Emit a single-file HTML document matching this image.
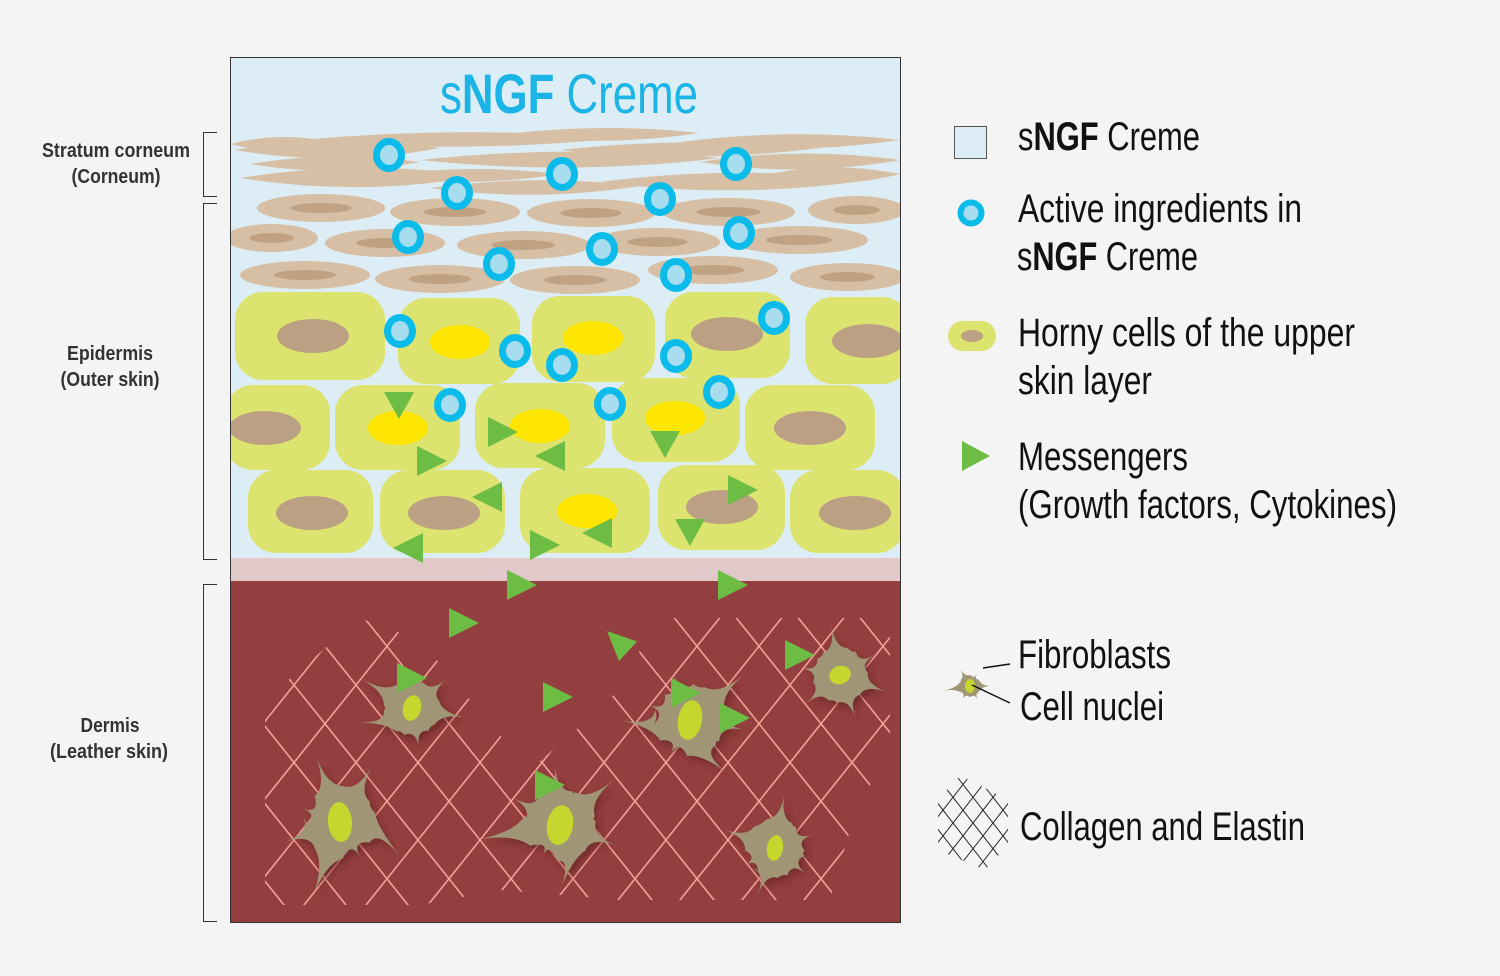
<!DOCTYPE html>
<html><head><meta charset="utf-8"><style>
html,body{margin:0;padding:0;background:#f4f4f4;width:1500px;height:976px;overflow:hidden;position:relative;}
svg{display:block;position:absolute;left:0;top:0;}
text{font-family:"Liberation Sans Narrow","Liberation Sans",sans-serif;}
</style></head><body>
<svg id="s" width="1500" height="976" viewBox="0 0 1500 976" xmlns="http://www.w3.org/2000/svg">
<defs>
<clipPath id="box"><rect x="231" y="58" width="669" height="864"/></clipPath>
<clipPath id="hatch"><polygon points="265,700 360,618 420,640 470,700 530,770 610,700 660,618 890,618 890,740 850,830 830,900 620,900 500,890 420,905 265,905"/></clipPath>
<clipPath id="lhc"><polygon points="938,800 960,775 1008,800 1008,845 985,870 938,850"/></clipPath>
<filter id="sh" x="-20%" y="-20%" width="140%" height="140%"><feDropShadow dx="3" dy="4" stdDeviation="4" flood-color="#5a1f1f" flood-opacity="0.6"/></filter>
</defs>
<rect x="230.5" y="57.5" width="670" height="865" fill="#dcedf5" stroke="#333" stroke-width="1"/>
<g clip-path="url(#box)" id="art">
<rect x="231" y="558" width="669" height="24" fill="#e2c9c9"/>
<rect x="231" y="581" width="669" height="341" fill="#943f3f"/>
<g id="corneum" fill="#d6bfa5"></g>
<g id="flat"></g>
<g id="green"></g>
<g id="hatchg" clip-path="url(#hatch)" stroke="#f4a19a" stroke-width="1.6"></g>
<g id="fib"></g>
<g id="tri" fill="#6dbd45"></g>
<g id="dots"></g>
</g>
<text x="440" y="113" font-size="56" fill="#1bb4e6" textLength="258" lengthAdjust="spacingAndGlyphs">s<tspan font-weight="bold">NGF</tspan> Creme</text>

<g fill="none" stroke="#333" stroke-width="1">
<path d="M217,132.5H203.5V196.5H217"/>
<path d="M217,203.5H203.5V559.5H217"/>
<path d="M217,584.5H203.5V921.5H217"/>
</g>
<g font-size="20" font-weight="bold" fill="#333" text-anchor="middle">
<text x="116" y="157" textLength="148" lengthAdjust="spacingAndGlyphs">Stratum corneum</text>
<text x="116" y="183" textLength="89" lengthAdjust="spacingAndGlyphs">(Corneum)</text>
<text x="110" y="360" textLength="86" lengthAdjust="spacingAndGlyphs">Epidermis</text>
<text x="110" y="386" textLength="99" lengthAdjust="spacingAndGlyphs">(Outer skin)</text>
<text x="110" y="732" textLength="59" lengthAdjust="spacingAndGlyphs">Dermis</text>
<text x="109" y="758" textLength="118" lengthAdjust="spacingAndGlyphs">(Leather skin)</text>
</g>

<rect x="954.5" y="126.5" width="32" height="32" fill="#dcedf5" stroke="#555"/>
<circle cx="971" cy="213" r="10.5" fill="#a8dcef" stroke="#0bbbe9" stroke-width="6"/>
<rect x="948" y="321" width="48" height="30" rx="15" fill="#dce36e"/>
<ellipse cx="972" cy="336" rx="11" ry="6" fill="#bba083"/>
<polygon points="962,441 990,456 962,471" fill="#6dbd45"/>
<g id="legfib"></g>
<g stroke="#111" stroke-width="1.5"><line x1="983" y1="668" x2="1010" y2="664"/><line x1="972" y1="685" x2="1010" y2="703"/></g>
<g id="leghatch" stroke="#222" stroke-width="1" clip-path="url(#lhc)"></g>
<g font-size="40" fill="#111">
<text x="1018" y="150" textLength="182" lengthAdjust="spacingAndGlyphs">s<tspan font-weight="bold">NGF</tspan> Creme</text>
<text x="1018" y="222" textLength="284" lengthAdjust="spacingAndGlyphs">Active ingredients in</text>
<text x="1017" y="270" textLength="181" lengthAdjust="spacingAndGlyphs">s<tspan font-weight="bold">NGF</tspan> Creme</text>
<text x="1018" y="346" textLength="337" lengthAdjust="spacingAndGlyphs">Horny cells of the upper</text>
<text x="1018" y="394" textLength="134" lengthAdjust="spacingAndGlyphs">skin layer</text>
<text x="1018" y="470" textLength="170" lengthAdjust="spacingAndGlyphs">Messengers</text>
<text x="1018" y="518" textLength="379" lengthAdjust="spacingAndGlyphs">(Growth factors, Cytokines)</text>
<text x="1018" y="668" textLength="153" lengthAdjust="spacingAndGlyphs">Fibroblasts</text>
<text x="1020" y="720" textLength="144" lengthAdjust="spacingAndGlyphs">Cell nuclei</text>
<text x="1020" y="840" textLength="285" lengthAdjust="spacingAndGlyphs">Collagen and Elastin</text>
</g>
</svg>
<script>
var NS="http://www.w3.org/2000/svg";
function el(p,t,a){var e=document.createElementNS(NS,t);for(var k in a)e.setAttribute(k,a[k]);document.getElementById(p).appendChild(e);return e;}
[[235,150,440,11],[240,178,480,12],[300,140,620,9],[420,160,720,10],[500,135,700,8],[560,150,820,9],[600,182,870,11],[680,142,900,9],[700,162,900,10],[430,188,640,9],[250,164,420,9],[760,176,900,10],[380,176,560,8],[230,144,330,8]].forEach(function(s){
 var x1=s[0],y=s[1],x2=s[2],h=s[3];
 el("corneum","path",{d:"M"+x1+","+y+"Q"+((x1+x2)/2)+","+(y-h*1.6)+" "+x2+","+(y-2)+"Q"+((x1+x2)/2)+","+(y+h*1.6)+" "+x1+","+y+"Z"});
});
[[257,385,208],[390,520,212],[527,655,213],[662,795,212],[808,905,210],[225,318,238],[325,445,243],[457,590,245],[595,720,242],[730,868,240],[240,370,275],[375,505,279],[510,640,280],[648,778,270],[790,905,277]].forEach(function(c){
 var w=c[1]-c[0];el("flat","ellipse",{cx:(c[0]+c[1])/2,cy:c[2],rx:w/2,ry:14,fill:"#d6bfa5"});
 el("flat","ellipse",{cx:(c[0]+c[1])/2,cy:c[2],rx:w*0.24,ry:5,fill:"#c0a283"});
});
var G=[[235,385,292,380,"t",313,336],[398,520,298,384,"y",460,342],[532,655,296,382,"y",593,338],[665,790,292,378,"t",727,334],[805,910,297,384,"t",868,341],
[225,330,385,470,"t",265,428],[335,460,385,470,"y",398,428],[475,605,383,468,"y",540,426],[612,740,378,462,"y",675,418],[745,875,385,470,"t",810,428],
[248,373,470,553,"t",312,513],[380,505,470,553,"t",444,513],[520,650,468,553,"y",587,511],[658,785,465,550,"t",722,507],[790,905,470,553,"t",855,513]];
G.forEach(function(c){
 el("green","rect",{x:c[0],y:c[2],width:c[1]-c[0],height:c[3]-c[2],rx:28,fill:"#dce36e"});
 if(c[4]=="t")el("green","ellipse",{cx:c[5],cy:c[6],rx:36,ry:17,fill:"#bba083"});
 else el("green","ellipse",{cx:c[5],cy:c[6],rx:30,ry:17,fill:"#ffe600"});
});
for(var k=-400;k<900;k+=62){
 el("hatchg","line",{x1:200+k,y1:610,x2:200+k+244,y2:915});
 el("hatchg","line",{x1:200+k,y1:915,x2:200+k+244,y2:610});
}
function star(g,cx,cy,arms,r,sc,nrx,nry,rot){
 var pts=[],n=arms.length,d="";
 for(var i=0;i<n;i++){var a=arms[i][0]*Math.PI/180,L=arms[i][1]*sc;
  var b1=a-0.45,b2=a+0.45;var bend=(arms[i][2]||0)*Math.PI/180;
  pts.push({b1:[cx+r*Math.cos(b1),cy+r*Math.sin(b1)],b2:[cx+r*Math.cos(b2),cy+r*Math.sin(b2)],t:[cx+L*Math.cos(a+bend),cy+L*Math.sin(a+bend)],m:[cx+L*0.55*Math.cos(a),cy+L*0.55*Math.sin(a)]});}
 d="M"+pts[0].b1.join(",");
 for(var i=0;i<n;i++){var p=pts[i],q=pts[(i+1)%n];
  d+="Q"+p.m.join(",")+" "+p.t.join(",")+"Q"+p.m.join(",")+" "+p.b2.join(",");
  var ma=Math.atan2((p.b2[1]+q.b1[1])/2-cy,(p.b2[0]+q.b1[0])/2-cx);
  d+="Q"+(cx+r*0.9*Math.cos(ma))+","+(cy+r*0.9*Math.sin(ma))+" "+q.b1.join(",");}
 el(g,"path",{d:d+"Z",fill:"#a09676",filter:g=="fib"?"url(#sh)":""});
 el(g,"ellipse",{cx:cx,cy:cy,rx:nrx,ry:nry,fill:"#c5d62e",transform:"rotate("+rot+" "+cx+" "+cy+")"});
}
star("fib",412,708,[[-150,58],[-100,40],[-40,45],[10,55],[80,40],[150,55,15]],28,1,9,13,15);
star("fib",340,822,[[-110,70],[-60,65],[10,70,20],[60,40],[110,80],[160,60],[-160,40]],36,1,12,20,-5);
star("fib",560,825,[[-95,60],[-40,70],[20,60],[70,65,20],[120,35],[170,85],[-150,55]],36,1,13,20,10);
star("fib",690,720,[[-110,50],[-40,70],[10,55],[70,65,-15],[120,40],[170,70,10],[-160,45]],36,1,12,20,10);
star("fib",840,675,[[-100,50],[-30,40],[20,50],[70,45],[140,45],[-170,40]],28,1,11,9,-20);
star("fib",775,848,[[-80,55],[-20,40],[40,40],[110,50],[150,35],[-160,55]],30,1,8,13,10);
star("legfib",970,686,[[-120,20],[-60,14],[0,22],[60,16],[120,16],[170,28]],11,1,5,7,0);
for(var k=-80;k<80;k+=20){
 el("leghatch","line",{x1:938+k,y1:778,x2:938+k+70,y2:868});
 el("leghatch","line",{x1:938+k,y1:868,x2:938+k+70,y2:778});
}
function tri(x,y,dir){var s=15,p;
 if(dir=="r")p=[[x-s,y-s],[x+s,y],[x-s,y+s]];
 else if(dir=="d")p=[[x-s,y-s*0.8],[x+s,y-s*0.8],[x,y+s]];
 else if(dir=="l")p=[[x+s,y-s],[x-s,y],[x+s,y+s]];
 else p=[[x-s,y-s],[x+s,y-s*0.3],[x-s*0.2,y+s]];
 el("tri","polygon",{points:p.map(function(q){return q.join(",")}).join(" ")});}
[[399,404,"d"],[432,461,"r"],[503,432,"r"],[550,456,"l"],[665,443,"d"],[487,497,"l"],[743,490,"r"],[690,531,"d"],[408,548,"l"],[545,545,"r"],[597,533,"l"],[522,585,"r"],[733,585,"r"],[464,623,"r"],[622,646,"x"],[412,678,"r"],[558,697,"r"],[800,655,"r"],[686,693,"r"],[735,718,"r"],[550,785,"r"]].forEach(function(t){tri(t[0],t[1],t[2]);});
[[389,155],[457,193],[562,174],[660,199],[736,164],[408,237],[499,264],[602,249],[739,233],[676,275],[400,331],[515,351],[562,365],[676,356],[774,318],[450,405],[610,404],[719,392]].forEach(function(d){
 el("dots","ellipse",{cx:d[0],cy:d[1],rx:12.5,ry:13.5,fill:"#a8dcef",stroke:"#0bbbe9","stroke-width":"7"});
});
</script>
</body></html>
